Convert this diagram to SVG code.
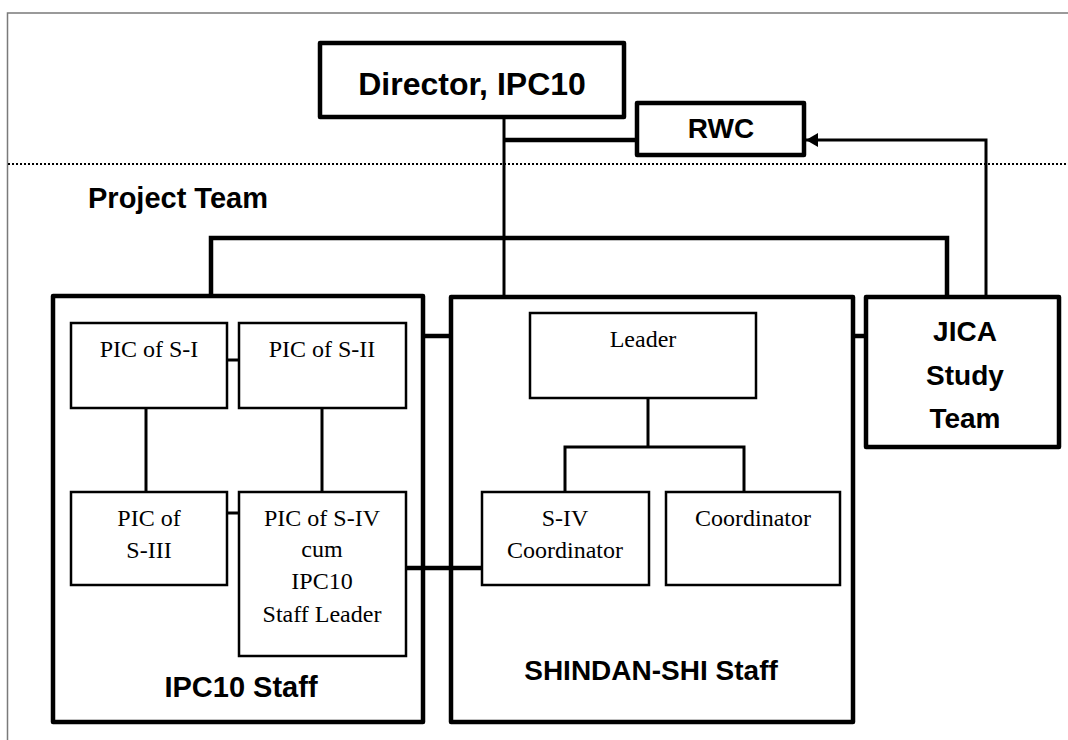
<svg xmlns="http://www.w3.org/2000/svg" width="1068" height="740" viewBox="0 0 1068 740">
  <style>
    .frame { fill: none; stroke: #7a7a7a; stroke-width: 1.5; }
    .thick { fill: #fff; stroke: #000; stroke-width: 4.5; stroke-linejoin: round; }
    .group { fill: none; stroke: #000; stroke-width: 4.5; stroke-linejoin: round; }
    .thin { fill: #fff; stroke: #000; stroke-width: 2.5; }
    .line { fill: none; stroke: #000; stroke-width: 3; }
    .bus { fill: none; stroke: #000; stroke-width: 4.5; }
    .dots { fill: none; stroke: #000; stroke-width: 2; stroke-dasharray: 2 2; }
    .bold { font-family: "Liberation Sans", Arial, sans-serif; font-weight: bold; font-size: 28px; fill: #000; text-anchor: middle; }
    .serif { font-family: "Liberation Serif", "Times New Roman", serif; font-size: 24px; fill: #000; text-anchor: middle; }
  </style>
  <defs>
    <marker id="arrow" viewBox="0 0 12 14" refX="12" refY="7" markerWidth="12" markerHeight="14" markerUnits="userSpaceOnUse" orient="auto">
      <path d="M0,0 L12,7 L0,14 Z" fill="#000"/>
    </marker>
  </defs>
  <rect width="1068" height="740" fill="#fff"/>

  <!-- page frame and boundary line -->
  <path class="frame" d="M1068,13 H7.5 V740"/>
  <line class="dots" x1="8" y1="164" x2="1068" y2="164"/>
  <text class="bold" x="178" y="208" style="font-size:29px">Project Team</text>

  <!-- staff groups (outlines only, inner links drawn over them) -->
  <g id="ipc10-staff">
    <rect class="group" x="53" y="296" width="370" height="426"/>
    <text class="bold" x="241" y="697" style="font-size:29px">IPC10 Staff</text>
  </g>

  <g id="shindan-shi-staff">
    <rect class="group" x="451" y="297" width="402" height="425"/>
    <text class="bold" x="651" y="680">SHINDAN-SHI Staff</text>
  </g>

  <g id="connectors">
    <line class="line" x1="504" y1="117" x2="504" y2="297"/>
    <line class="bus" x1="504" y1="140" x2="637" y2="140"/>
    <polyline class="line" points="986,297 986,140 806,140" marker-end="url(#arrow)"/>
    <polyline class="bus" points="211,297 211,238 947,238 947,297"/>
    <line class="bus" x1="423" y1="336" x2="451" y2="336"/>
    <line class="bus" x1="853" y1="336" x2="866" y2="336"/>
    <line class="bus" x1="406" y1="568" x2="482" y2="568"/>
    <line class="line" x1="227" y1="360" x2="239" y2="360"/>
    <line class="line" x1="146" y1="408" x2="146" y2="492"/>
    <line class="line" x1="322" y1="408" x2="322" y2="492"/>
    <line class="line" x1="227" y1="513" x2="239" y2="513"/>
    <line class="line" x1="648" y1="398" x2="648" y2="447"/>
    <polyline class="line" points="565,492 565,447 744,447 744,492"/>
  </g>

  <g id="director">
    <rect class="thick" x="320" y="43" width="304" height="74"/>
    <text class="bold" x="472" y="95" style="font-size:32px">Director, IPC10</text>
  </g>

  <g id="rwc">
    <rect class="thick" x="637" y="103" width="167" height="52"/>
    <text class="bold" x="721" y="138">RWC</text>
  </g>

  <g id="jica-study-team">
    <rect class="thick" x="866" y="297" width="193" height="150"/>
    <text class="bold" x="965" y="341">JICA</text>
    <text class="bold" x="965" y="385">Study</text>
    <text class="bold" x="965" y="428">Team</text>
  </g>

  <g id="pic-s1">
    <rect class="thin" x="71" y="323" width="156" height="85"/>
    <text class="serif" x="149" y="357">PIC of S-I</text>
  </g>

  <g id="pic-s2">
    <rect class="thin" x="239" y="323" width="167" height="85"/>
    <text class="serif" x="322" y="357">PIC of S-II</text>
  </g>

  <g id="pic-s3">
    <rect class="thin" x="71" y="492" width="156" height="93"/>
    <text class="serif" x="149" y="526">PIC of</text>
    <text class="serif" x="149" y="558">S-III</text>
  </g>

  <g id="pic-s4">
    <rect class="thin" x="239" y="492" width="167" height="164"/>
    <text class="serif" x="322" y="526">PIC of S-IV</text>
    <text class="serif" x="322" y="557">cum</text>
    <text class="serif" x="322" y="589">IPC10</text>
    <text class="serif" x="322" y="622">Staff Leader</text>
  </g>

  <g id="leader">
    <rect class="thin" x="530" y="313" width="226" height="85"/>
    <text class="serif" x="643" y="347">Leader</text>
  </g>

  <g id="s4-coordinator">
    <rect class="thin" x="482" y="492" width="167" height="93"/>
    <text class="serif" x="565" y="526">S-IV</text>
    <text class="serif" x="565" y="558">Coordinator</text>
  </g>

  <g id="coordinator">
    <rect class="thin" x="666" y="492" width="174" height="93"/>
    <text class="serif" x="753" y="526">Coordinator</text>
  </g>
</svg>
